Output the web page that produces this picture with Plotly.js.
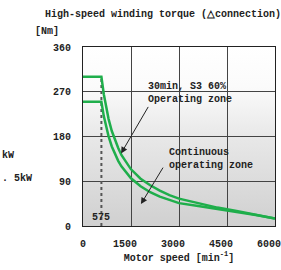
<!DOCTYPE html>
<html><head><meta charset="utf-8">
<script src="https://cdn.plot.ly/plotly-3.0.1.min.js"></script>
<style>html,body{margin:0;padding:0;background:#fff;}#c{width:281px;height:270px;}</style>
</head><body><div id="c"></div>
<script>
const speed = [0, 575, 650, 700, 800, 900, 1000, 1100, 1200, 1350, 1500, 1800, 2100, 2400, 2700, 3000, 3600, 4200, 4800, 5400, 6000];
const torqueS3 = [300, 300, 265, 246, 215, 191, 172, 157, 143, 128, 114, 95, 82, 71, 62, 55, 46, 37, 30, 22, 15];
const torqueCont = [250, 250, 221, 205, 180, 160, 144, 131, 120, 107, 96, 80, 68, 59, 52, 46, 40, 34, 29, 22, 15];
const baseSpeed = 575;
const baseTorque = 300;
const xTicks = [0, 1500, 3000, 4500, 6000];
const xTickText = ['\u00a0\u00a00', '1500', '3000', '4500', '6000'];
const yTicks = [0, 90, 180, 270, 360];

const F = "Liberation Mono";
const green = "#1fae4b";
const grad = 'data:image/svg+xml;base64,' + btoa('<svg xmlns="http://www.w3.org/2000/svg" width="100" height="100" preserveAspectRatio="none"><defs><linearGradient id="g" x1="0" y1="0" x2="0" y2="1"><stop offset="0" stop-color="#ffffff"/><stop offset="0.22" stop-color="#fbfbfb"/><stop offset="0.5" stop-color="#e8e8e8"/><stop offset="1" stop-color="#d0d0d0"/></linearGradient></defs><rect width="100" height="100" fill="url(#g)"/></svg>');

const traces = [
  {x:[baseSpeed, baseSpeed], y:[0, baseTorque], mode:'lines', line:{color:'#555', width:2, dash:'dot'}, hoverinfo:'skip'},
  {x:speed, y:torqueCont, mode:'lines', line:{color:green, width:2.5, shape:'linear'}},
  {x:speed, y:torqueS3, mode:'lines', line:{color:green, width:2.5, shape:'linear'}}
];
const tf = {family:F, size:10, color:'#222', weight:'bold'};
const layout = {
  width:281, height:270, showlegend:false,
  margin:{l:83, r:6, t:47, b:44},
  paper_bgcolor:'#fff', plot_bgcolor:'rgba(0,0,0,0)',
  title:{text:'High-speed winding torque (△connection)', font:{family:F, size:10, color:'#222', weight:'bold'}, xref:'container', yref:'container', x:0.58, y:0.95, xanchor:'center', yanchor:'middle'},
  xaxis:{range:[0,6000], tickvals:xTicks, ticktext:xTickText, showgrid:true, gridcolor:'#444', gridwidth:1, zeroline:false, showline:true, mirror:true, linecolor:'#222', linewidth:1, ticks:'', tickfont:tf, ticklabelstandoff:8, ticklabelshift:-6, ticklabeloverflow:'allow',
    title:{text:'Motor speed [min<sup>-1</sup>]', font:tf, standoff:4}},
  yaxis:{range:[0,360], tickvals:yTicks, ticktext:yTicks.map(String), showgrid:true, gridcolor:'#444', gridwidth:1, zeroline:false, showline:true, mirror:true, linecolor:'#222', linewidth:1, ticks:'', tickfont:tf, ticklabelstandoff:9},
  images:[{source:grad, xref:'paper', yref:'paper', x:0, y:1, sizex:1, sizey:1, sizing:'stretch', xanchor:'left', yanchor:'top', layer:'below'}],
  annotations:[
    {xref:'paper', yref:'paper', x:-50/192, y:1+15/179, text:'[Nm]', showarrow:false, xanchor:'left', yanchor:'middle', font:tf},
    {xref:'paper', yref:'paper', x:-83/192, y:(226-155)/179, text:'kW', showarrow:false, xanchor:'left', yanchor:'middle', font:tf},
    {xref:'paper', yref:'paper', x:-83/192, y:(226-178)/179, text:'. 5kW', showarrow:false, xanchor:'left', yanchor:'middle', font:tf},
    {x:baseSpeed, y:0, text:String(baseSpeed), showarrow:false, xanchor:'center', yanchor:'bottom', yshift:1, font:tf},
    {xref:'paper', yref:'paper', x:(146-83)/192, y:(226-93)/179, text:'30min, S3 60%<br>Operating zone', align:'left', showarrow:false, xanchor:'left', yanchor:'middle', font:tf},
    {xref:'paper', yref:'paper', x:(167-83)/192, y:(226-159)/179, text:'Continuous<br>operating zone', align:'left', showarrow:false, xanchor:'left', yanchor:'middle', font:tf},
    {x:1190, y:146, text:'', showarrow:true, ax:28, ay:-48, arrowhead:2, arrowsize:1.3, arrowwidth:1, arrowcolor:'#222', standoff:0},
    {x:1810, y:44, text:'', showarrow:true, ax:23, ay:-38, arrowhead:2, arrowsize:1.3, arrowwidth:1, arrowcolor:'#222', standoff:0}
  ]
};
Plotly.newPlot('c', traces, layout, {staticPlot:true, displayModeBar:false});
</script></body></html>
